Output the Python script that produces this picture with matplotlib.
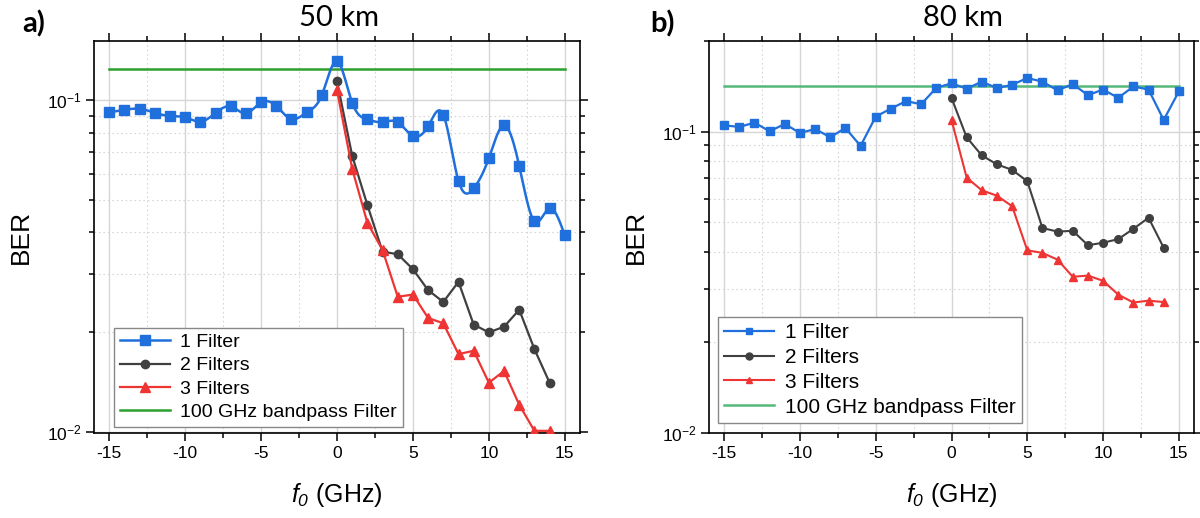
import numpy as np
import matplotlib
matplotlib.use("Agg")
import matplotlib.pyplot as plt
from matplotlib.ticker import LogLocator, NullFormatter, MultipleLocator

plt.rcParams['font.family'] = ['Liberation Sans', 'DejaVu Sans']
plt.rcParams['mathtext.fontset'] = 'custom'
plt.rcParams['mathtext.rm'] = 'Liberation Sans:italic'
plt.rcParams['mathtext.it'] = 'Liberation Sans:italic'

# 数据
f0_one = np.arange(-15, 16)
f0_multi = np.arange(0, 15)

ber_a_1 = [0.0920, 0.0937, 0.0943, 0.0918, 0.0897, 0.0889, 0.0863, 0.0916, 0.0959, 0.0914,
           0.0986, 0.0962, 0.0878, 0.0920, 0.1037, 0.1313, 0.0984, 0.0876, 0.0860, 0.0860,
           0.0781, 0.0837, 0.0905, 0.0572, 0.0543, 0.0670, 0.0841, 0.0634, 0.0432, 0.0473, 0.0392]
ber_a_2 = [0.1143, 0.0681, 0.0484, 0.0350, 0.0344, 0.0310, 0.0268, 0.0247, 0.0284, 0.0211,
           0.0200, 0.0208, 0.0234, 0.0178, 0.0141]
ber_a_3 = [0.1074, 0.0622, 0.0428, 0.0354, 0.0256, 0.0260, 0.0221, 0.0213, 0.0172, 0.0176,
           0.0141, 0.0153, 0.0121, 0.0101, 0.0101]
bandpass_a = 0.124

ber_b_1 = [0.1050, 0.1037, 0.1072, 0.1003, 0.1061, 0.0990, 0.1021, 0.0958, 0.1029, 0.0897,
           0.1122, 0.1193, 0.1263, 0.1234, 0.1398, 0.1448, 0.1389, 0.1466, 0.1395, 0.1431,
           0.1507, 0.1466, 0.1371, 0.1439, 0.1322, 0.1380, 0.1295, 0.1413, 0.1380, 0.1094, 0.1360]
ber_b_2 = [0.1295, 0.0958, 0.0834, 0.0779, 0.0747, 0.0685, 0.0479, 0.0466, 0.0469, 0.0420,
           0.0428, 0.0440, 0.0476, 0.0518, 0.0412]
ber_b_3 = [0.1094, 0.0704, 0.0639, 0.0613, 0.0566, 0.0404, 0.0396, 0.0376, 0.0330, 0.0333,
           0.0320, 0.0288, 0.0271, 0.0275, 0.0272]
bandpass_b = 0.142
bandpass_x = [-15, 15]

labels = ['1 Filter', '2 Filters', '3 Filters', '100 GHz bandpass Filter']

BLUE = '#1f6fdc'
GREY = '#404040'
RED = '#ef3434'


def natural_spline(x, y, xs):
    # 自然三次样条, 只用于画平滑连线
    x = np.asarray(x, float)
    y = np.asarray(y, float)
    n = len(x)
    h = np.diff(x)
    A = np.zeros((n, n))
    r = np.zeros(n)
    A[0, 0] = A[-1, -1] = 1
    for i in range(1, n - 1):
        A[i, i - 1] = h[i - 1]
        A[i, i] = 2 * (h[i - 1] + h[i])
        A[i, i + 1] = h[i]
        r[i] = 3 * ((y[i + 1] - y[i]) / h[i] - (y[i] - y[i - 1]) / h[i - 1])
    c = np.linalg.solve(A, r)
    b = (y[1:] - y[:-1]) / h - h * (2 * c[:-1] + c[1:]) / 3
    d = (c[1:] - c[:-1]) / (3 * h)
    idx = np.clip(np.searchsorted(x, xs) - 1, 0, n - 2)
    dx = xs - x[idx]
    return y[idx] + b[idx] * dx + c[idx] * dx ** 2 + d[idx] * dx ** 3


def style_axis(ax, ylim):
    ax.set_yscale('log')
    ax.set_xlim(-16, 16)
    ax.set_ylim(*ylim)
    ax.xaxis.set_major_locator(MultipleLocator(5))
    ax.xaxis.set_minor_locator(MultipleLocator(2.5))
    ax.yaxis.set_major_locator(LogLocator(base=10))
    ax.yaxis.set_minor_locator(LogLocator(base=10, subs=np.arange(2, 10)))
    ax.yaxis.set_minor_formatter(NullFormatter())
    ax.grid(True, which='major', color='#d6d6d6', lw=1.0, ls='-')
    ax.grid(True, which='minor', color='#d6d6d6', lw=0.8, ls=(0, (1.5, 2.5)))
    ax.set_axisbelow(True)
    ax.tick_params(which='both', direction='out', top=True, right=True, width=1.1, labelsize=12.5)
    ax.tick_params(which='major', length=6, pad=3)
    ax.tick_params(which='minor', length=3.5)
    for sp in ax.spines.values():
        sp.set_linewidth(1.2)
    ax.set_xticks([-15, -10, -5, 0, 5, 10, 15])
    ax.set_xticklabels(['-15', '-10', '-5', '0', '5', '10', '15'])
    ax.set_ylabel('BER', fontsize=19, labelpad=10)
    ax.set_xlabel(r'$f_0$ (GHz)', fontsize=18, labelpad=15)


fig = plt.figure(figsize=(12, 5.18), dpi=100)

# a) 50 km
ax1 = fig.add_axes([94 / 1200, 1 - 433 / 518, 486 / 1200, 392 / 518])
style_axis(ax1, (0.00995, 0.151))
xs = np.linspace(-15, 15, 600)
ax1.plot(xs, 10 ** natural_spline(f0_one, np.log10(ber_a_1), xs), color=BLUE, lw=1.8, zorder=3)
ax1.plot(f0_one, ber_a_1, ls='none', marker='s', ms=6.5, color=BLUE, zorder=4)
ax1.plot(f0_multi, ber_a_2, color=GREY, lw=1.6, marker='o', ms=6, zorder=3)
ax1.plot(f0_multi, ber_a_3, color=RED, lw=1.6, marker='^', ms=6.5, zorder=3)
ax1.plot(bandpass_x, [bandpass_a] * 2, color='#2ca02c', lw=1.8, zorder=2)
h1 = [plt.Line2D([], [], color=BLUE, lw=1.8, marker='s', ms=6.5),
      plt.Line2D([], [], color=GREY, lw=1.6, marker='o', ms=6),
      plt.Line2D([], [], color=RED, lw=1.6, marker='^', ms=6.5),
      plt.Line2D([], [], color='#2ca02c', lw=1.8)]
leg = ax1.legend(h1, labels, loc='lower left', bbox_to_anchor=(0.041, 0.015), borderaxespad=0,
                 fontsize=14, fancybox=False, framealpha=1, edgecolor='#888888',
                 handlelength=2.6, labelspacing=0.3, borderpad=0.3, handletextpad=0.5)
leg.get_frame().set_linewidth(1.0)

# b) 80 km
ax2 = fig.add_axes([709 / 1200, 1 - 433 / 518, 485 / 1200, 392 / 518])
style_axis(ax2, (0.01, 0.2))
ax2.plot(f0_one, ber_b_1, color=BLUE, lw=1.6, marker='s', ms=5.5, zorder=3)
ax2.plot(f0_multi, ber_b_2, color=GREY, lw=1.5, marker='o', ms=5.5, zorder=3)
ax2.plot(f0_multi, ber_b_3, color=RED, lw=1.5, marker='^', ms=5.5, zorder=3)
ax2.plot(bandpass_x, [bandpass_b] * 2, color='#55b87a', lw=1.8, zorder=2)
h2 = [plt.Line2D([], [], color=BLUE, lw=1.6, marker='s', ms=5),
      plt.Line2D([], [], color=GREY, lw=1.5, marker='o', ms=5),
      plt.Line2D([], [], color=RED, lw=1.5, marker='^', ms=5),
      plt.Line2D([], [], color='#55b87a', lw=1.8)]
leg = ax2.legend(h2, labels, loc='lower left', bbox_to_anchor=(0.019, 0.026), borderaxespad=0,
                 fontsize=15, fancybox=False, framealpha=1, edgecolor='#888888',
                 handlelength=2.4, labelspacing=0.28, borderpad=0.3, handletextpad=0.5)
leg.get_frame().set_linewidth(1.0)

# 标题和面板标号
fig.text(339 / 1200, 1 - 18 / 518, '50 km', ha='center', va='center', fontsize=21, family=['Lato', 'DejaVu Sans'])
fig.text(963 / 1200, 1 - 18 / 518, '80 km', ha='center', va='center', fontsize=21, family=['Lato', 'DejaVu Sans'])
fig.text(34 / 1200, 1 - 24 / 518, 'a)', ha='center', va='center', fontsize=21, fontweight='bold', family=['Lato', 'DejaVu Sans'])
fig.text(662 / 1200, 1 - 24 / 518, 'b)', ha='center', va='center', fontsize=21, fontweight='bold', family=['Lato', 'DejaVu Sans'])

plt.savefig('out.png', dpi=100)
